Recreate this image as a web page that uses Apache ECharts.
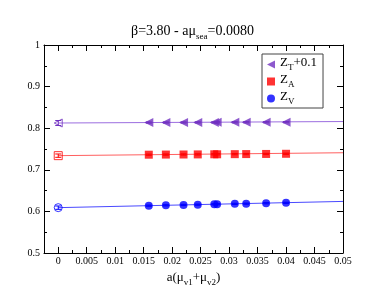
<!DOCTYPE html>
<html>
<head>
<meta charset="utf-8">
<script src="https://cdn.jsdelivr.net/npm/echarts@6/dist/echarts.min.js"></script>
<style>html,body{margin:0;padding:0;background:#fff}#c{width:385px;height:298px}</style>
</head>
<body>
<div id="c"></div>
<script>
const xVals = [0.0159, 0.0189, 0.0220, 0.0245, 0.0274, 0.0279, 0.0310, 0.0330, 0.0365, 0.0400];
const zT = [0.8136, 0.8137, 0.8138, 0.8139, 0.8140, 0.8141, 0.8142, 0.8143, 0.8144, 0.8146];
const zA = [0.7363, 0.7366, 0.7368, 0.7370, 0.7373, 0.7373, 0.7376, 0.7378, 0.7381, 0.7385];
const zV = [0.6138, 0.6146, 0.6155, 0.6162, 0.6170, 0.6172, 0.6181, 0.6186, 0.6196, 0.6206];
const dataErr = 0.0015;
const extrapX = 0;
const zT0 = 0.8125, zA0 = 0.734, zV0 = 0.609;
const zT0Err = 0.006, zA0Err = 0.004, zV0Err = 0.004;
const fitX = [0, 0.05];
const fitT = [0.8125, 0.8160];
const fitA = [0.7340, 0.7410];
const fitV = [0.6090, 0.6240];
const xMajorTicks = [0, 0.005, 0.01, 0.015, 0.02, 0.025, 0.03, 0.035, 0.04, 0.045, 0.05];
const xMinorTicks = [0.0025, 0.0075, 0.0125, 0.0175, 0.0225, 0.0275, 0.0325, 0.0375, 0.0425, 0.0475];

const cT = '#7030c0', cA = '#ff0000', cV = '#0000ff';
const triPath = 'path://M0,5L10,0L10,10Z';
const serif = '"Liberation Serif", "Times New Roman", serif';

const pairs = (xs, ys) => xs.map((x, i) => [x, ys[i]]);

function errSeries(color, pts) {
  return {
    type: 'custom', silent: true, z: 3,
    data: pts,
    renderItem: function (params, api) {
      const x = api.value(0), y = api.value(1), e = api.value(2);
      const top = api.coord([x, y + e]);
      const bot = api.coord([x, y - e]);
      const w = 3;
      return {
        type: 'group',
        children: [
          {type: 'line', shape: {x1: top[0], y1: top[1], x2: bot[0], y2: bot[1]}, style: {stroke: color, lineWidth: 1}},
          {type: 'line', shape: {x1: top[0]-w, y1: top[1], x2: top[0]+w, y2: top[1]}, style: {stroke: color, lineWidth: 1}},
          {type: 'line', shape: {x1: bot[0]-w, y1: bot[1], x2: bot[0]+w, y2: bot[1]}, style: {stroke: color, lineWidth: 1}}
        ]
      };
    }
  };
}

function richSet(big, small, lift) {
  return {
    a: {fontFamily: serif, fontSize: big, color: '#000', fontWeight: 'normal', verticalAlign: 'bottom', lineHeight: big + 2, padding: [0, 0, lift, 0]},
    s: {fontFamily: serif, fontSize: small, color: '#000', fontWeight: 'normal', verticalAlign: 'bottom', lineHeight: small + 2}
  };
}

const chart = echarts.init(document.getElementById('c'), null, {renderer: 'canvas'});
const axisBase = {
  axisLine: {show: true, onZero: false, lineStyle: {color: '#000', width: 1}},
  splitLine: {show: false}
};
const xCommon = Object.assign({}, axisBase, {type: 'value', min: -0.0025, max: 0.05});
const yCommon = Object.assign({}, axisBase, {type: 'value', min: 0.5, max: 1, interval: 0.1});

chart.setOption({
  animation: false,
  backgroundColor: '#fff',
  title: {
    text: '{a|β=3.80 - aμ}{s|sea}{a|=0.0080}',
    left: 'center', top: 20,
    textStyle: {fontWeight: 'normal', rich: richSet(14, 9, 3)}
  },
  grid: {left: 44, right: 42, top: 45, bottom: 45, containLabel: false},
  legend: {
    orient: 'vertical', left: 262, top: 54,
    width: 59,
    borderColor: '#444', borderWidth: 1, borderRadius: 0,
    padding: [2, 6, 2, 5],
    itemGap: 1, itemWidth: 8, itemHeight: 8,
    data: [
      {name: 'ZT', icon: triPath},
      {name: 'ZA', icon: 'rect'},
      {name: 'ZV', icon: 'circle'}
    ],
    formatter: function (n) {
      if (n === 'ZT') return '{a|Z}{s|T}{a|+0.1}';
      if (n === 'ZA') return '{a|Z}{s|A}';
      return '{a|Z}{s|V}';
    },
    textStyle: {rich: richSet(13, 9, 3)}
  },
  xAxis: [
    Object.assign({}, xCommon, {
      position: 'bottom',
      name: '{a|a(μ}{s|v1}{a|+μ}{s|v2}{a|)}',
      nameLocation: 'middle', nameGap: 12,
      nameTextStyle: {rich: richSet(13, 9, 3)},
      axisTick: {show: true, inside: true, length: 6, customValues: xMajorTicks, lineStyle: {color: '#000'}},
      axisLabel: {show: true, customValues: xMajorTicks, fontFamily: serif, fontSize: 10, color: '#000', margin: 3}
    }),
    Object.assign({}, xCommon, {
      position: 'bottom',
      axisLine: {show: false},
      axisTick: {show: true, inside: true, length: 3, customValues: xMinorTicks, lineStyle: {color: '#000'}},
      axisLabel: {show: false}
    }),
    Object.assign({}, xCommon, {
      position: 'top',
      axisTick: {show: true, inside: true, length: 6, customValues: xMajorTicks, lineStyle: {color: '#000'}},
      axisLabel: {show: false}
    }),
    Object.assign({}, xCommon, {
      position: 'top',
      axisLine: {show: false},
      axisTick: {show: true, inside: true, length: 3, customValues: xMinorTicks, lineStyle: {color: '#000'}},
      axisLabel: {show: false}
    })
  ],
  yAxis: [
    Object.assign({}, yCommon, {
      position: 'left',
      axisTick: {show: true, inside: true, length: 6, lineStyle: {color: '#000'}},
      minorTick: {show: true, splitNumber: 2, length: 3, lineStyle: {color: '#000'}},
      axisLabel: {show: true, fontFamily: serif, fontSize: 10, color: '#000', margin: 4}
    }),
    Object.assign({}, yCommon, {
      position: 'right',
      axisTick: {show: true, inside: true, length: 6, lineStyle: {color: '#000'}},
      minorTick: {show: true, splitNumber: 2, length: 3, lineStyle: {color: '#000'}},
      axisLabel: {show: false}
    })
  ],
  series: [
    {name: 'fitT', type: 'line', data: pairs(fitX, fitT), showSymbol: false, silent: true, lineStyle: {color: '#9c6ee0', width: 1}, z: 1},
    {name: 'fitA', type: 'line', data: pairs(fitX, fitA), showSymbol: false, silent: true, lineStyle: {color: '#ff6060', width: 1}, z: 1},
    {name: 'fitV', type: 'line', data: pairs(fitX, fitV), showSymbol: false, silent: true, lineStyle: {color: '#4a4aff', width: 1}, z: 1},
    errSeries(cT, [[extrapX, zT0, zT0Err]].concat(xVals.map((x, i) => [x, zT[i], dataErr]))),
    errSeries(cA, [[extrapX, zA0, zA0Err]].concat(xVals.map((x, i) => [x, zA[i], dataErr]))),
    errSeries(cV, [[extrapX, zV0, zV0Err]].concat(xVals.map((x, i) => [x, zV[i], dataErr]))),
    {name: 'extT', type: 'scatter', data: [[extrapX, zT0]], symbol: triPath, symbolSize: 8, itemStyle: {color: 'rgba(0,0,0,0)', borderColor: cT, borderWidth: 1}, z: 4},
    {name: 'extA', type: 'scatter', data: [[extrapX, zA0]], symbol: 'rect', symbolSize: 8, itemStyle: {color: 'rgba(0,0,0,0)', borderColor: cA, borderWidth: 1}, z: 4},
    {name: 'extV', type: 'scatter', data: [[extrapX, zV0]], symbol: 'circle', symbolSize: 8, itemStyle: {color: 'rgba(0,0,0,0)', borderColor: cV, borderWidth: 1}, z: 4},
    {name: 'ZT', type: 'scatter', data: pairs(xVals, zT), symbol: triPath, symbolSize: 9, itemStyle: {color: cT}, z: 5},
    {name: 'ZA', type: 'scatter', data: pairs(xVals, zA), symbol: 'rect', symbolSize: 8, itemStyle: {color: cA}, z: 5},
    {name: 'ZV', type: 'scatter', data: pairs(xVals, zV), symbol: 'circle', symbolSize: 8, itemStyle: {color: cV}, z: 5}
  ]
});
</script>
</body>
</html>
